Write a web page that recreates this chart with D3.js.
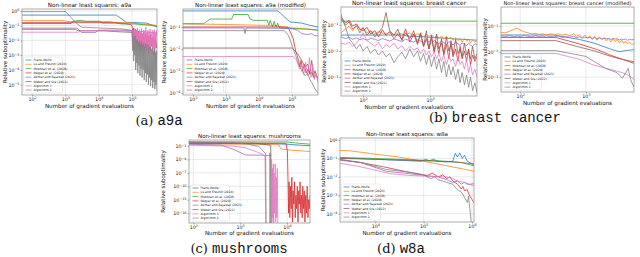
<!DOCTYPE html>
<html>
<head>
<meta charset="utf-8">
<script src="https://cdnjs.cloudflare.com/ajax/libs/d3/7.8.5/d3.min.js"></script>
<style>
body { margin: 0; background: #fff; }
svg { display: block; font-family: "DejaVu Sans", sans-serif; }
</style>
</head>
<body>
<div class="canvas"></div>
<script>
var svg = d3.select(".canvas").append("svg"),
    width = 640,
    height = 257;

svg.attr("width", width)
    .attr("height", height);

var methods = ["Frank-Wolfe", "Lu and Freund (2020)", "Mokhtari et al. (2018)", "Négiar et al. (2020)",
    "Akhtar and Rajawat (2021)", "Weber and Sra (2022)", "Algorithm 1", "Algorithm 2"];
var colors = ["#1f77b4", "#ff7f0e", "#2ca02c", "#d62728", "#9467bd", "#8c564b", "#e377c2", "#7f7f7f"];

// ---- a9a ----
var a9aXTicks = [1e2, 1e3, 1e4, 1e5];
var a9aYTicks = [1, 1e-1, 1e-2, 1e-3, 1e-4, 1e-5];
var a9aFW = [[50, 0.52], [3.4e4, 0.52], [6.7e4, 0.17], [1.5e5, 0.16], [2.7e5, 0.15], [4e5, 0.11], [5.6e5, 0.085]];
var a9aLF = [[50, 0.22], [900, 0.22], [1100, 0.19], [2e4, 0.19], [3e4, 0.17], [1e5, 0.15], [2e5, 0.13], [3.5e5, 0.12], [5.6e5, 0.1]];
var a9aMok = [[50, 0.14], [1500, 0.14], [1700, 0.2], [3000, 0.23], [4000, 0.2], [1.1e4, 0.2], [1.3e4, 0.15], [3e4, 0.15], [5e4, 0.13], [1.2e5, 0.13], [3e5, 0.11], [5.6e5, 0.09]];
var a9aNeg = [[50, 0.16], [3e4, 0.16], [6e4, 0.14], [9e4, 0.12], [1e5, 0.1], [1.06e5, 0.02], [1.12e5, 0.07], [1.19e5, 0.01], [1.26e5, 0.06],
    [1.33e5, 0.006], [1.41e5, 0.05], [1.5e5, 0.008], [1.58e5, 0.04], [1.68e5, 0.004], [1.78e5, 0.035], [1.88e5, 0.006], [2e5, 0.03],
    [2.11e5, 0.003], [2.24e5, 0.04], [2.37e5, 0.005], [2.51e5, 0.025], [2.66e5, 0.003], [2.82e5, 0.03], [2.99e5, 0.004], [3.16e5, 0.02],
    [3.35e5, 0.0025], [3.55e5, 0.025], [3.76e5, 0.004], [3.98e5, 0.015], [4.22e5, 0.003], [4.47e5, 0.02], [4.73e5, 0.0025],
    [5.01e5, 0.012], [5.31e5, 0.003], [5.6e5, 0.006]];
var a9aAkh = [[50, 0.068], [2200, 0.068], [2600, 0.05], [3000, 0.035], [8e3, 0.035], [1e4, 0.05], [5e4, 0.05], [1e5, 0.045], [2e5, 0.04], [3.5e5, 0.035], [5.6e5, 0.03]];
var a9aWeb = [[50, 0.057], [2000, 0.057], [2400, 0.045], [1.5e4, 0.045], [3e4, 0.04], [1e5, 0.035], [1.5e5, 0.02], [2.5e5, 0.012], [4e5, 0.008], [5.6e5, 0.006]];
var a9aTailX = [1e5, 1.04e5, 1.08e5, 1.12e5, 1.16e5, 1.2e5, 1.24e5, 1.29e5, 1.34e5, 1.39e5, 1.44e5, 1.49e5, 1.55e5, 1.61e5, 1.67e5, 1.73e5,
    1.79e5, 1.86e5, 1.93e5, 2e5, 2.08e5, 2.16e5, 2.24e5, 2.32e5, 2.41e5, 2.5e5, 2.59e5, 2.69e5, 2.79e5, 2.89e5, 3e5, 3.11e5, 3.23e5,
    3.35e5, 3.47e5, 3.6e5, 3.74e5, 3.88e5, 4.02e5, 4.17e5, 4.33e5, 4.49e5, 4.66e5, 4.83e5, 5.01e5, 5.2e5, 5.4e5, 5.6e5];
var a9aAlg1Head = [[50, 0.036], [2500, 0.036], [3000, 0.045], [5e4, 0.045], [9e4, 0.04]];
var a9aAlg1Tail = [0.04, 0.008, 0.05, 0.003, 0.03, 0.012, 0.06, 0.002, 0.045, 0.005, 0.07, 0.0025, 0.035, 0.009, 0.055, 0.0015,
    0.04, 0.004, 0.065, 0.002, 0.03, 0.007, 0.05, 0.0013, 0.045, 0.003, 0.08, 0.002, 0.035, 0.006, 0.05, 0.0012, 0.04, 0.0035,
    0.06, 0.0018, 0.03, 0.005, 0.05, 0.0015, 0.04, 0.0025, 0.055, 0.0012, 0.035, 0.004, 0.045, 0.02];
var a9aAlg2Head = [[50, 0.9], [1000, 0.9], [1300, 0.5], [1700, 0.25], [2300, 0.13], [3000, 0.08], [1e4, 0.07], [5e4, 0.06], [9e4, 0.05]];
var a9aAlg2Tail = [0.04, 0.002, 0.025, 0.0004, 0.015, 0.001, 0.02, 0.0001, 0.01, 0.0003, 0.012, 0.00006, 0.008, 0.0002, 0.01, 0.00004,
    0.006, 0.00012, 0.009, 0.00003, 0.005, 0.0001, 0.007, 0.00002, 0.004, 0.00006, 0.006, 0.000015, 0.0035, 0.00005, 0.005, 0.00001,
    0.003, 0.00003, 0.004, 0.000008, 0.0025, 0.00002, 0.003, 0.000006, 0.002, 0.000015, 0.0025, 0.000005, 0.0015, 0.00001, 0.002, 0.000004];

// ---- a9a (modified) ----
var a9amYTicks = [1e-1, 1e-2, 1e-3, 1e-4];
var a9amFW = [[50, 0.54], [3.8e4, 0.54], [8.7e4, 0.17], [2e5, 0.15], [3.5e5, 0.12], [6.2e5, 0.1]];
var a9amLF = [[50, 0.14], [1e3, 0.13], [1e4, 0.12], [3e4, 0.12], [5e4, 0.1], [1e5, 0.09], [3e5, 0.08], [6.2e5, 0.075]];
var a9amMok = [[50, 0.14], [210, 0.14], [330, 0.23], [1500, 0.23], [1700, 0.37], [4700, 0.37], [5400, 0.23], [7000, 0.2], [1.8e4, 0.2],
    [2e4, 0.12], [2.2e4, 0.2], [2.6e4, 0.1], [2.9e4, 0.18], [3.3e4, 0.1], [3.7e4, 0.15], [4.2e4, 0.09], [1e5, 0.085], [3e5, 0.08], [6.2e5, 0.07]];
var a9amNeg = [[50, 0.1], [7.6e4, 0.1], [1.1e5, 0.03], [1.3e5, 0.008], [1.45e5, 0.005], [1.6e5, 0.003], [1.75e5, 0.0015], [1.9e5, 0.003],
    [2.1e5, 0.001], [2.4e5, 0.002], [2.7e5, 0.0008], [3.1e5, 0.0012], [3.5e5, 0.0007], [4e5, 0.0009], [4.6e5, 0.0005], [5.3e5, 0.0006], [6.2e5, 0.0005]];
var a9amAkh = [[50, 0.09], [3500, 0.09], [3800, 0.05], [4100, 0.09], [1e5, 0.085], [1.5e5, 0.07], [2e5, 0.05], [3e5, 0.045], [4e5, 0.05], [5e5, 0.04], [6.2e5, 0.04]];
var a9amWeb = [[50, 0.011], [1e5, 0.011], [1.5e5, 0.006], [2e5, 0.003], [2.5e5, 0.0015], [3e5, 0.002], [3.5e5, 0.0008], [4e5, 0.003], [4.5e5, 0.0005], [5e5, 0.001], [6.2e5, 0.0004]];
var a9amAlg1 = [[50, 0.0045], [1.1e5, 0.0045], [1.4e5, 0.003], [1.7e5, 0.0012], [2e5, 0.002], [2.3e5, 0.0007], [2.6e5, 0.0025], [3e5, 0.0006],
    [3.4e5, 0.004], [3.8e5, 0.0005], [4.3e5, 0.002], [4.8e5, 0.0004], [5.4e5, 0.0008], [6.2e5, 0.0003]];
var a9amAlg2 = [[50, 0.068], [6e4, 0.068], [8e4, 0.04], [1e5, 0.015], [1.3e5, 0.005], [1.6e5, 0.002], [2e5, 0.001], [2.5e5, 0.0006],
    [3e5, 0.0008], [3.5e5, 0.0004], [4e5, 0.0003], [5e5, 0.00015], [6.2e5, 0.0001]];

// ---- breast cancer ----
var bcXTicks = [1e2, 1e3];
var bcYTicks = [1e-1, 1e-2, 1e-3];
var bcX = [47, 55, 62, 70, 80, 90, 100, 115, 130, 150, 170, 195, 220, 250, 290, 330, 380, 430, 500, 570, 650, 720, 800, 880, 960,
    1050, 1150, 1250, 1350, 1480, 1600, 1750, 1900, 2050, 2200, 2400, 2600, 2800, 3000, 3250, 3500, 3750, 4000, 4300, 4650, 5000];
var bcFW = [[47, 0.041], [380, 0.041], [500, 0.037], [1000, 0.034], [2000, 0.03], [5000, 0.026]];
var bcMok = [[47, 0.14], [5000, 0.14]];
var bcLF = [0.05, 0.07, 0.09, 0.06, 0.1, 0.065, 0.075, 0.05, 0.06, 0.045, 0.055, 0.05, 0.045, 0.052, 0.042, 0.05, 0.045, 0.04, 0.05, 0.038,
    0.046, 0.04, 0.035, 0.045, 0.036, 0.042, 0.032, 0.04, 0.03, 0.038, 0.028, 0.036, 0.03, 0.034, 0.026, 0.032, 0.025, 0.03, 0.022, 0.03,
    0.024, 0.028, 0.02, 0.026, 0.022, 0.025];
var bcNeg = [0.2, 0.12, 0.15, 0.09, 0.11, 0.07, 0.06, 0.08, 0.045, 0.06, 0.035, 0.065, 0.04, 0.055, 0.03, 0.045, 0.028, 0.07, 0.022, 0.045,
    0.018, 0.05, 0.015, 0.03, 0.012, 0.04, 0.009, 0.022, 0.008, 0.03, 0.007, 0.018, 0.005, 0.025, 0.006, 0.012, 0.004, 0.015, 0.005, 0.01,
    0.004, 0.012, 0.003, 0.007, 0.004, 0.006];
var bcAkh = [0.035, 0.03, 0.033, 0.028, 0.032, 0.027, 0.03, 0.026, 0.031, 0.028, 0.025, 0.03, 0.027, 0.024, 0.029, 0.026, 0.023, 0.028, 0.025,
    0.022, 0.027, 0.024, 0.021, 0.026, 0.023, 0.02, 0.025, 0.022, 0.019, 0.024, 0.021, 0.018, 0.023, 0.02, 0.017, 0.022, 0.019, 0.016, 0.021,
    0.018, 0.016, 0.02, 0.017, 0.015, 0.019, 0.017];
var bcWeb = [0.17, 0.1, 0.13, 0.07, 0.09, 0.05, 0.08, 0.04, 0.06, 0.035, 0.05, 0.08, 0.3, 0.06, 0.04, 0.07, 0.025, 0.05, 0.03, 0.06, 0.02,
    0.045, 0.015, 0.06, 0.012, 0.03, 0.01, 0.045, 0.012, 0.02, 0.008, 0.035, 0.01, 0.018, 0.007, 0.028, 0.008, 0.012, 0.006, 0.02, 0.007,
    0.01, 0.005, 0.015, 0.005, 0.008];
var bcAlg1 = [0.02, 0.018, 0.022, 0.015, 0.02, 0.03, 0.05, 0.025, 0.02, 0.015, 0.022, 0.012, 0.018, 0.014, 0.02, 0.012, 0.016, 0.01, 0.015,
    0.011, 0.013, 0.008, 0.012, 0.007, 0.01, 0.006, 0.009, 0.005, 0.008, 0.004, 0.007, 0.003, 0.006, 0.004, 0.005, 0.0025, 0.006, 0.003,
    0.004, 0.002, 0.005, 0.0015, 0.003, 0.0012, 0.002, 0.001];
var bcAlg2 = [0.25, 0.08, 0.03, 0.02, 0.012, 0.018, 0.01, 0.015, 0.008, 0.012, 0.007, 0.01, 0.006, 0.008, 0.0035, 0.006, 0.009, 0.005, 0.012,
    0.006, 0.01, 0.004, 0.008, 0.003, 0.007, 0.0025, 0.006, 0.002, 0.005, 0.0015, 0.004, 0.001, 0.003, 0.0012, 0.0025, 0.0008, 0.002,
    0.0006, 0.0015, 0.0005, 0.0012, 0.0004, 0.001, 0.0003, 0.0006, 0.00025];

// ---- breast cancer (modified) ----
var bcmX = [51, 60, 70, 80, 90, 100, 115, 130, 150, 170, 195, 220, 250, 290, 330, 380, 430, 500, 570, 650, 720, 800, 880, 960, 1050,
    1150, 1250, 1350, 1480, 1600, 1750, 1900, 2050, 2200, 2400, 2600, 2800, 3000, 3250, 3500, 3750, 4000, 4300, 4650, 5000, 5400];
var bcmFW = [[51, 0.045], [320, 0.045], [800, 0.03], [1300, 0.022], [2300, 0.013], [3200, 0.01], [4000, 0.011], [5400, 0.012]];
var bcmMok = [[51, 0.13], [5400, 0.13]];
var bcmLF = [0.057, 0.055, 0.065, 0.075, 0.082, 0.07, 0.06, 0.055, 0.05, 0.052, 0.048, 0.05, 0.045, 0.05, 0.047, 0.05, 0.044, 0.048, 0.042,
    0.05, 0.04, 0.046, 0.035, 0.045, 0.033, 0.042, 0.03, 0.04, 0.028, 0.038, 0.03, 0.035, 0.026, 0.034, 0.024, 0.032, 0.025, 0.03, 0.022,
    0.028, 0.021, 0.026, 0.02, 0.024, 0.019, 0.021];
var bcmNeg = [[51, 0.036], [350, 0.036], [800, 0.02], [1500, 0.012], [2300, 0.0075], [3600, 0.005], [5400, 0.0035]];
var bcmAkh = [0.041, 0.04, 0.042, 0.038, 0.041, 0.039, 0.043, 0.04, 0.038, 0.042, 0.039, 0.041, 0.037, 0.04, 0.038, 0.042, 0.036, 0.039,
    0.037, 0.04, 0.035, 0.038, 0.034, 0.037, 0.035, 0.036, 0.033, 0.036, 0.032, 0.035, 0.031, 0.034, 0.032, 0.033, 0.03, 0.033, 0.031,
    0.032, 0.029, 0.031, 0.03, 0.031, 0.028, 0.03, 0.029, 0.03];
var bcmWeb = [[51, 0.027], [350, 0.027], [800, 0.015], [1300, 0.011], [2500, 0.0063], [3600, 0.005], [5400, 0.004]];
var bcmAlg1 = [[51, 0.0085], [350, 0.0085], [800, 0.005], [1300, 0.003], [2600, 0.0019], [3600, 0.0015], [4400, 0.0012], [5400, 0.0008]];
var bcmAlg2 = [[51, 0.011], [350, 0.011], [1000, 0.0065], [2000, 0.0022], [3000, 0.0015], [3600, 0.0009], [4400, 0.0022], [4800, 0.0008], [5400, 0.0004]];

// ---- mushrooms ----
var mushXTicks = [1e2, 1e3, 1e4];
var mushYTicks = [1e-1, 1e-4, 1e-7, 1e-10, 1e-13, 1e-16];
var mushFW = [[81, 0.35], [5000, 0.3], [1e4, 0.25], [2e4, 0.15], [3.1e4, 0.12]];
var mushLF = [[81, 0.3], [6500, 0.25], [7500, 0.02], [1.2e4, 0.012], [3.1e4, 0.006]];
var mushMok = [[81, 0.9], [1e4, 0.8], [1.5e4, 0.5], [3.1e4, 0.25]];
var mushNeg = [[81, 0.5], [9500, 0.4], [1.02e4, 0.01], [1.05e4, 1e-8], [1.08e4, 1e-16], [1.11e4, 1e-9], [1.15e4, 1e-17], [1.19e4, 1e-10],
    [1.23e4, 1e-15], [1.27e4, 1e-8], [1.31e4, 1e-18], [1.35e4, 1e-11], [1.4e4, 1e-14], [1.45e4, 1e-9], [1.5e4, 1e-17], [1.55e4, 1e-12],
    [1.6e4, 1e-15], [1.66e4, 1e-10], [1.72e4, 1e-18], [1.78e4, 1e-11], [1.84e4, 1e-14], [1.9e4, 1e-9], [1.97e4, 1e-16], [2.04e4, 1e-12],
    [2.11e4, 1e-17], [2.18e4, 1e-10], [2.26e4, 1e-15], [2.34e4, 1e-11], [2.42e4, 1e-18], [2.5e4, 1e-12], [2.6e4, 1e-16], [2.7e4, 1e-10],
    [2.8e4, 1e-17], [2.9e4, 1e-13], [3e4, 1e-15], [3.1e4, 1e-12]];
var mushAkh = [[81, 0.25], [400, 0.15], [700, 0.02], [1300, 0.001], [4700, 0.0008]];
var mushWeb = [[81, 0.5], [2000, 0.4], [3000, 0.25], [4500, 0.15], [4650, 1e-21]];
var mushAlg1 = [[81, 0.15], [700, 0.1], [1300, 0.04], [2000, 0.008], [2800, 0.002], [3400, 0.0005], [3550, 1e-21], [4600, 1e-21],
    [4700, 1e-4], [4800, 1e-18], [4900, 1e-6], [5000, 1e-17], [5100, 1e-5], [5200, 1e-19], [5300, 1e-7], [5450, 1e-16], [5600, 1e-5],
    [5750, 1e-18], [5900, 1e-8], [6050, 1e-17], [6200, 1e-6], [6400, 1e-21]];
var mushAlg2 = [[81, 0.7], [800, 0.5], [1500, 0.25], [2500, 0.08], [3500, 0.002], [3600, 1e-21], [4300, 1e-21], [4350, 0.003], [4420, 1e-21]];

// ---- w8a ----
var w8aXTicks = [1e4, 1e5, 1e6];
var w8aYTicks = [1, 1e-1, 1e-2, 1e-3, 1e-4];
var w8aFW = [[1862, 0.11], [1e4, 0.09], [5e4, 0.075], [9e4, 0.07], [1.1e5, 0.09], [1.3e5, 0.075], [1.6e5, 0.09], [2e5, 0.07], [3e5, 0.065],
    [4e5, 0.07], [4.5e5, 0.19], [5e5, 0.12], [5.6e5, 0.2], [6.3e5, 0.1], [7e5, 0.15], [8e5, 0.07], [1.1e6, 0.045]];
var w8aLF = [[1862, 0.27], [3000, 0.26], [1e4, 0.17], [3e4, 0.12], [1e5, 0.07], [3e5, 0.04], [6e5, 0.028], [1.1e6, 0.02]];
var w8aMok = [[1862, 0.11], [1e4, 0.1], [5e4, 0.085], [1e5, 0.08], [3e5, 0.07], [6e5, 0.06], [1.1e6, 0.04]];
var w8aNeg = [[1862, 0.085], [5e3, 0.06], [1.5e4, 0.035], [4e4, 0.02], [8e4, 0.014], [1.2e5, 0.012], [1.5e5, 0.016], [2e5, 0.01],
    [2.5e5, 0.013], [3e5, 0.008], [3.5e5, 0.01], [4e5, 0.006], [5e5, 0.004], [6e5, 0.0022], [6.5e5, 0.003], [7e5, 0.0018], [8e5, 0.002],
    [9e5, 0.0009], [1e6, 0.0006], [1.1e6, 0.0004]];
var w8aAkh = [[1862, 0.09], [5e3, 0.06], [1.7e4, 0.02], [5e4, 0.015], [1e5, 0.012], [2e5, 0.01], [3e5, 0.007], [4e5, 0.005], [5e5, 0.006],
    [6e5, 0.004], [7e5, 0.005], [8e5, 0.004], [1.1e6, 0.0035]];
var w8aWeb = [[1862, 0.1], [1e4, 0.09], [5e4, 0.08], [1e5, 0.075], [2e5, 0.07], [4e5, 0.065], [6e5, 0.06], [8e5, 0.055], [1.1e6, 0.05]];
var w8aAlg1 = [[1862, 0.055], [5e3, 0.035], [2e4, 0.015], [5e4, 0.012], [1e5, 0.011], [3e5, 0.01], [4e5, 0.008], [5e5, 0.006], [7e5, 0.005],
    [9e5, 0.004], [1.1e6, 0.0045]];
var w8aAlg2 = [[1862, 0.08], [5e3, 0.06], [1.7e4, 0.025], [5e4, 0.018], [1e5, 0.013], [1.4e5, 0.008], [1.7e5, 0.01], [2e5, 0.007], [3e5, 0.005],
    [4e5, 0.004], [5e5, 0.002], [6e5, 0.0015], [7e5, 0.0008], [8e5, 0.0004], [8.5e5, 0.0009], [9e5, 0.0002], [9.5e5, 0.00005], [1e6, 0.00001]];

var panels = [
    { name: "a9a", title: "Non-linear least squares: a9a", box: [22, 9, 157, 95], xd: [50, 5.6e5], yd: [Math.pow(10, -5.7), Math.pow(10, 0.13)],
      xt: a9aXTicks, yt: a9aYTicks, ts: 5.7, ylx: 5, xlb: 108,
      series: [a9aFW, a9aLF, a9aMok, a9aNeg, a9aAkh, a9aWeb,
          a9aAlg1Head.concat(d3.zip(a9aTailX, a9aAlg1Tail)), a9aAlg2Head.concat(d3.zip(a9aTailX, a9aAlg2Tail))] },
    { name: "a9am", title: "Non-linear least squares: a9a (modified)", box: [183, 9, 318, 95], xd: [50, 6.2e5], yd: [Math.pow(10, -4.1), Math.pow(10, -0.18)],
      xt: a9aXTicks, yt: a9amYTicks, ts: 5.5, ylx: 164, xlb: 108,
      series: [a9amFW, a9amLF, a9amMok, a9amNeg, a9amAkh, a9amWeb, a9amAlg1, a9amAlg2] },
    { name: "bc", title: "Non-linear least squares: breast cancer", box: [341, 7, 477, 96], xd: [47, 5000], yd: [Math.pow(10, -3.73), Math.pow(10, -0.31)],
      xt: bcXTicks, yt: bcYTicks, ts: 5.8, ylx: 324, xlb: 109,
      series: [bcFW, d3.zip(bcX, bcLF), bcMok, d3.zip(bcX, bcNeg), d3.zip(bcX, bcAkh), d3.zip(bcX, bcWeb), d3.zip(bcX, bcAlg1), d3.zip(bcX, bcAlg2)] },
    { name: "bcm", title: "Non-linear least squares: breast cancer (modified)", box: [501, 7, 634, 92], xd: [51, 5400], yd: [Math.pow(10, -3.58), Math.pow(10, -0.25)],
      xt: bcXTicks, yt: bcYTicks, ts: 5.1, ylx: 485, xlb: 105,
      series: [bcmFW, d3.zip(bcmX, bcmLF), bcmMok, bcmNeg, d3.zip(bcmX, bcmAkh), bcmWeb, bcmAlg1, bcmAlg2] },
    { name: "mush", title: "Non-linear least squares: mushrooms", box: [189, 140, 310, 223], xd: [81, 3.1e4], yd: [Math.pow(10, -18.2), Math.pow(10, 0.34)],
      xt: mushXTicks, yt: mushYTicks, ts: 5.5, ylx: 163, xlb: 235,
      series: [mushFW, mushLF, mushMok, mushNeg, mushAkh, mushWeb, mushAlg1, mushAlg2] },
    { name: "w8a", title: "Non-linear least squares: w8a", box: [340, 138, 474, 222], xd: [1862, 1.1e6], yd: [Math.pow(10, -4.45), Math.pow(10, 0.11)],
      xt: w8aXTicks, yt: w8aYTicks, ts: 5.5, ylx: 323, xlb: 235,
      series: [w8aFW, w8aLF, w8aMok, w8aNeg, w8aAkh, w8aWeb, w8aAlg1, w8aAlg2] }
];

var captions = [
    { label: "(a)", name: "a9a", x: 159, y: 125 },
    { label: "(b)", name: "breast cancer", x: 495, y: 122 },
    { label: "(c)", name: "mushrooms", x: 239, y: 253 },
    { label: "(d)", name: "w8a", x: 401, y: 253 }
];

//writes 10 with a raised exponent into a tick label
function powerLabel(sel, v) {
    var e = Math.round(Math.log10(v));
    sel.text(null);
    sel.append("tspan").text("10");
    sel.append("tspan").attr("dy", "-0.45em").attr("font-size", "0.7em")
        .text(e < 0 ? "\u2212" + (-e) : e);
}

function drawPanel(p) {
    var g = svg.append("g");
    var left = p.box[0], top = p.box[1], right = p.box[2], bottom = p.box[3];
    var x = d3.scaleLog().domain(p.xd).range([left, right]);
    var y = d3.scaleLog().domain(p.yd).range([bottom, top]);

    svg.append("clipPath").attr("id", "clip-" + p.name)
        .append("rect").attr("x", left).attr("y", top)
        .attr("width", right - left).attr("height", bottom - top);

    // grid
    g.selectAll(".gx").data(p.xt).enter().append("line")
        .attr("x1", d => x(d)).attr("x2", d => x(d))
        .attr("y1", top).attr("y2", bottom)
        .style("stroke", "#dcdcdc").style("stroke-width", 0.6);
    g.selectAll(".gy").data(p.yt).enter().append("line")
        .attr("x1", left).attr("x2", right)
        .attr("y1", d => y(d)).attr("y2", d => y(d))
        .style("stroke", "#dcdcdc").style("stroke-width", 0.6);

    // axes
    var xa = g.append("g").attr("transform", "translate(0," + bottom + ")")
        .call(d3.axisBottom(x).tickValues(p.xt).tickSize(1.5).tickPadding(1));
    var ya = g.append("g").attr("transform", "translate(" + left + ",0)")
        .call(d3.axisLeft(y).tickValues(p.yt).tickSize(1.5).tickPadding(1));
    [xa, ya].forEach(function (a) {
        a.select(".domain").remove();
        a.attr("font-size", 4.8).attr("font-family", "DejaVu Sans");
        a.selectAll("line").style("stroke", "#444").style("stroke-width", 0.5);
        a.selectAll("text").style("fill", "#222").each(function (d) { powerLabel(d3.select(this), d); });
    });

    // lines
    var line = d3.line().x(d => x(d[0])).y(d => y(d[1]));
    var lines = g.append("g").attr("clip-path", "url(#clip-" + p.name + ")");
    p.series.forEach(function (s, i) {
        lines.append("path").datum(s)
            .attr("d", line)
            .style("fill", "none")
            .style("stroke", colors[i])
            .style("stroke-width", 0.9)
            .style("stroke-opacity", 0.85);
    });

    // frame
    g.append("rect").attr("x", left).attr("y", top)
        .attr("width", right - left).attr("height", bottom - top)
        .style("fill", "none").style("stroke", "#8a8a8a").style("stroke-width", 0.7);

    // legend
    var lw = 39, lh = 36, lx = left + 1.5, ly = bottom - 2 - lh;
    var leg = g.append("g");
    leg.append("rect").attr("x", lx).attr("y", ly).attr("width", lw).attr("height", lh).attr("rx", 1)
        .style("fill", "#fff").style("fill-opacity", 0.85).style("stroke", "#d0d0d0").style("stroke-width", 0.4);
    methods.forEach(function (m, i) {
        var yy = ly + 3 + i * 4.3;
        leg.append("line").attr("x1", lx + 2).attr("x2", lx + 8).attr("y1", yy).attr("y2", yy)
            .style("stroke", colors[i]).style("stroke-width", 0.8).style("stroke-opacity", 0.85);
        leg.append("text").attr("x", lx + 10).attr("y", yy + 1.1).attr("font-size", 3.1)
            .style("fill", "#222").text(m);
    });

    // title and axis labels
    g.append("text").attr("x", (left + right) / 2).attr("y", top - 2.2)
        .attr("text-anchor", "middle").attr("font-size", p.ts).style("fill", "#111").text(p.title);
    g.append("text").attr("x", (left + right) / 2).attr("y", p.xlb)
        .attr("text-anchor", "middle").attr("font-size", 5.6).style("fill", "#111").text("Number of gradient evaluations");
    g.append("text").attr("transform", "translate(" + p.ylx + "," + (top + bottom) / 2 + ") rotate(-90)")
        .attr("dy", "0.35em").attr("text-anchor", "middle").attr("font-size", 5.6).style("fill", "#111")
        .text("Relative suboptimality");
}

panels.forEach(drawPanel);

captions.forEach(function (c) {
    var t = svg.append("text").attr("x", c.x).attr("y", c.y).attr("text-anchor", "middle").style("fill", "#111");
    t.append("tspan").attr("font-family", "DejaVu Serif").attr("font-size", 13).text(c.label + " ");
    t.append("tspan").attr("font-family", "Liberation Mono").attr("font-size", 14).text(c.name);
});
</script>
</body>
</html>
